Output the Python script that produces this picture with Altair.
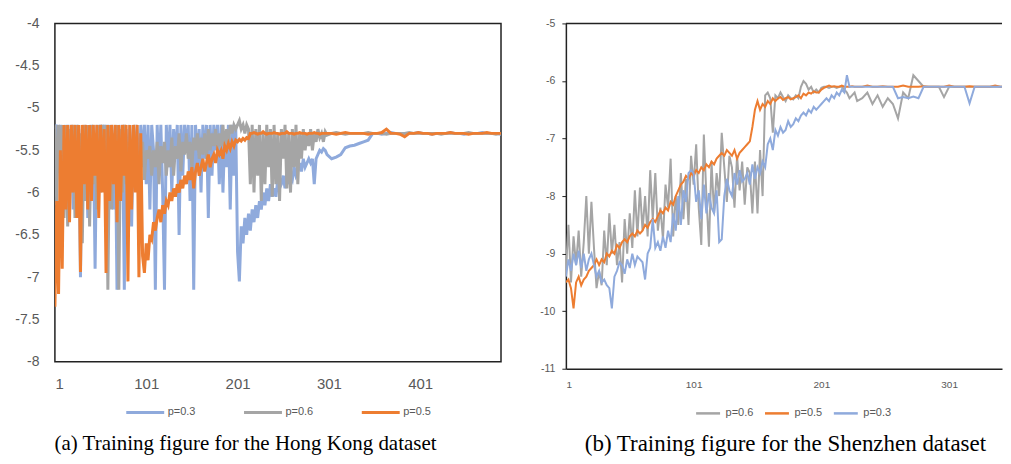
import altair as alt
import pandas as pd

# ---------------- data: (a) Hong Kong ----------------
hk_iters = list(range(1, 301, 2)) + list(range(304, 495, 5))
hk_names = ["p=0.3", "p=0.6", "p=0.5"]
hk_colors = ["#8FAADC", "#A5A5A5", "#ED7D31"]

hk_p03 = [
    -5.25, -5.2, -5.6, -5.2, -6.1, -5.2, -5.5, -5.2, -5.9, -5.2,
    -6.2, -5.2, -5.7, -5.2, -7.0, -5.25, -5.6, -5.2, -6.3, -5.2,
    -5.8, -5.2, -6.9, -5.2, -5.5, -5.2, -5.8, -5.2, -6.0, -5.2,
    -5.6, -5.2, -6.2, -5.2, -7.15, -5.2, -6.0, -5.2, -7.15, -5.25,
    -5.9, -5.2, -6.4, -5.2, -5.7, -5.2, -6.1, -5.2, -5.6, -5.2,
    -5.9, -5.2, -6.2, -5.2, -5.5, -7.15, -5.2, -5.8, -5.2, -6.0,
    -7.15, -5.2, -5.7, -5.2, -6.0, -5.25, -5.6, -5.2, -6.5, -5.2,
    -5.8, -5.2, -5.5, -5.2, -6.1, -5.2, -7.15, -5.2, -5.7, -5.25,
    -6.0, -5.2, -5.6, -5.2, -6.3, -5.2, -5.8, -5.2, -5.5, -5.2,
    -5.9, -5.2, -6.0, -5.3, -5.7, -5.2, -6.2, -5.2, -5.8, -5.2,
    -6.7, -7.05, -6.4, -6.6, -6.3, -6.5, -6.25, -6.45, -6.2, -6.35,
    -6.15, -6.3, -6.1, -6.2, -6.0, -6.15, -5.95, -6.1, -5.9, -6.05,
    -5.95, -6.05, -5.85, -5.95, -5.9, -5.8, -5.95, -5.75, -5.9, -5.8,
    -5.85, -5.7, -5.8, -5.75, -5.65, -5.75, -5.6, -5.7, -5.65, -5.6,
    -5.65, -5.6, -5.9, -5.6, -5.55, -5.5, -5.52, -5.48, -5.5, -5.55,
    -5.6, -5.58, -5.55, -5.47, -5.45, -5.44, -5.42, -5.4, -5.38, -5.3,
    -5.3, -5.31, -5.3, -5.29, -5.3, -5.3, -5.31, -5.3, -5.3, -5.29,
    -5.3, -5.3, -5.31, -5.3, -5.3, -5.3, -5.29, -5.3, -5.3, -5.31,
    -5.3, -5.3, -5.3, -5.29, -5.3, -5.3, -5.3, -5.31, -5.3,
]
hk_p06 = [
    -5.2, -6.15, -5.2, -5.6, -5.2, -6.3, -5.2, -6.4, -5.25, -6.0,
    -5.2, -6.3, -5.2, -5.9, -5.3, -6.6, -5.2, -6.1, -5.2, -6.4,
    -5.2, -5.9, -5.3, -6.2, -5.2, -6.0, -5.2, -5.8, -5.2, -7.15,
    -5.2, -6.2, -5.3, -5.9, -5.2, -7.15, -5.25, -6.0, -5.2, -5.9,
    -5.4, -5.7, -5.5, -5.9, -5.4, -5.8, -5.5, -5.7, -5.4, -5.85,
    -5.5, -5.6, -5.45, -5.8, -5.5, -5.7, -5.4, -5.9, -5.45, -5.65,
    -5.4, -5.8, -5.5, -5.7, -5.35, -5.8, -5.45, -5.6, -5.3, -5.75,
    -5.4, -5.55, -5.3, -5.6, -5.4, -5.7, -5.35, -5.5, -5.3, -5.6,
    -5.35, -5.55, -5.3, -5.6, -5.25, -5.5, -5.3, -5.45, -5.25, -5.5,
    -5.3, -5.45, -5.2, -5.5, -5.25, -5.4, -5.2, -5.3, -5.2, -5.25,
    -5.2, -5.15, -5.25, -5.2, -5.3, -5.2, -5.25, -5.9, -5.2, -6.0,
    -5.25, -5.8, -5.2, -6.1, -5.3, -5.9, -5.2, -5.7, -5.25, -6.05,
    -5.2, -5.9, -5.3, -6.1, -5.25, -5.6, -5.2, -5.95, -5.3, -6.0,
    -5.25, -5.7, -5.2, -5.9, -5.3, -5.6, -5.25, -5.5, -5.3, -5.45,
    -5.25, -5.5, -5.3, -5.4, -5.25, -5.35, -5.3, -5.4, -5.28, -5.32,
    -5.3, -5.29, -5.3, -5.31, -5.3, -5.3, -5.3, -5.3, -5.29, -5.3,
    -5.3, -5.3, -5.31, -5.3, -5.3, -5.3, -5.3, -5.29, -5.3, -5.3,
    -5.3, -5.3, -5.3, -5.3, -5.31, -5.3, -5.3, -5.3, -5.3, -5.3,
    -5.29, -5.3, -5.3, -5.3, -5.3, -5.3, -5.31, -5.3, -5.3,
]
hk_p05 = [
    -7.35, -6.1, -7.2, -5.5, -6.9, -5.2, -6.2, -5.2, -6.35, -5.2,
    -6.0, -5.2, -6.3, -5.2, -6.94, -5.2, -5.9, -5.2, -6.2, -5.2,
    -6.1, -5.2, -5.8, -5.2, -6.3, -5.2, -6.0, -5.25, -6.95, -5.2,
    -6.1, -5.2, -5.9, -5.2, -6.35, -5.2, -6.1, -5.2, -5.8, -5.2,
    -7.05, -5.2, -6.2, -5.2, -6.0, -5.2, -7.0, -5.3, -6.75, -6.95,
    -6.6, -6.8, -6.5, -6.55, -6.35, -6.45, -6.3, -6.2, -6.35, -6.15,
    -6.25, -6.1, -6.15, -6.0, -6.1, -5.95, -6.05, -5.9, -6.0, -5.85,
    -5.95, -5.8, -5.9, -5.75, -5.85, -5.7, -5.95, -5.75, -5.65, -5.8,
    -5.7, -5.6, -5.75, -5.65, -5.55, -5.7, -5.6, -5.55, -5.65, -5.5,
    -5.55, -5.5, -5.6, -5.45, -5.5, -5.42, -5.48, -5.4, -5.45, -5.38,
    -5.4, -5.37, -5.39, -5.36, -5.38, -5.35, -5.36, -5.3, -5.3, -5.29,
    -5.3, -5.31, -5.3, -5.3, -5.28, -5.3, -5.31, -5.3, -5.3, -5.3,
    -5.29, -5.3, -5.3, -5.31, -5.3, -5.3, -5.3, -5.28, -5.3, -5.3,
    -5.3, -5.31, -5.3, -5.3, -5.29, -5.3, -5.3, -5.3, -5.31, -5.3,
    -5.3, -5.3, -5.29, -5.3, -5.3, -5.31, -5.3, -5.3, -5.3, -5.3,
    -5.3, -5.31, -5.3, -5.29, -5.3, -5.3, -5.3, -5.3, -5.31, -5.3,
    -5.3, -5.29, -5.25, -5.3, -5.3, -5.31, -5.34, -5.3, -5.3, -5.29,
    -5.3, -5.3, -5.31, -5.3, -5.3, -5.3, -5.29, -5.3, -5.3, -5.3,
    -5.31, -5.3, -5.3, -5.3, -5.29, -5.3, -5.3, -5.3, -5.3,
]

# ---------------- data: (b) Shenzhen ----------------
sz_iters = list(range(1, 230, 2)) + list(range(233, 354, 4))
sz_names = ["p=0.6", "p=0.5", "p=0.3"]
sz_colors = ["#A5A5A5", "#ED7D31", "#8FAADC"]

sz_p06 = [
    -9.3, -8.5, -9.5, -8.7, -9.2, -8.6, -9.4, -8.8, -8.0, -9.0,
    -8.1, -8.9, -9.6, -9.3, -9.55, -8.6, -9.2, -8.3, -9.0, -8.5,
    -9.2, -8.8, -9.5, -8.4, -9.0, -8.3, -8.9, -7.9, -8.7, -7.85,
    -8.6, -8.0, -8.7, -7.55, -8.4, -7.6, -8.6, -8.2, -8.75, -7.8,
    -8.2, -7.35, -8.7, -8.0, -8.5, -7.6, -8.4, -7.7, -8.5, -7.3,
    -7.8, -7.1, -8.2, -8.85, -6.93, -8.0, -8.88, -7.4, -8.3, -7.6,
    -8.0, -6.9, -7.5, -8.1, -7.3, -7.5, -8.2, -7.3, -7.9, -7.4,
    -8.15, -7.5, -7.6, -8.3, -7.4, -8.3, -7.2, -8.0, -6.25, -6.2,
    -6.3, -6.9, -6.25, -6.3, -6.2, -6.28, -6.35, -6.25, -6.3, -6.32,
    -6.25, -6.3, -6.1, -6.0, -6.05, -6.15, -6.1, -6.2, -6.15, -6.2,
    -6.12, -6.1, -6.1, -6.12, -6.1, -6.1, -6.12, -6.1, -6.1, -6.15,
    -6.2, -6.3, -6.25, -6.2, -6.35,
    -6.3, -6.2, -6.4, -6.25, -6.45, -6.3, -6.4, -6.65, -6.2, -6.3,
    -5.9, -6.0, -6.1, -6.1, -6.1, -6.1, -6.28, -6.1, -6.1, -6.1,
    -6.1, -6.1, -6.1, -6.1, -6.1, -6.1, -6.1, -6.1, -6.1, -6.1,
    -6.1,
]
sz_p05 = [
    -9.5, -9.45, -9.6, -9.95, -9.5, -9.4, -9.55, -9.45, -9.4, -9.3,
    -9.25, -9.2, -9.1, -9.2, -9.1, -9.15, -9.0, -9.05, -8.95, -9.0,
    -8.85, -8.9, -8.8, -8.75, -8.8, -8.7, -8.65, -8.7, -8.6, -8.65,
    -8.6, -8.5, -8.55, -8.45, -8.4, -8.45, -8.35, -8.25, -8.3, -8.2,
    -8.25, -8.1, -8.15, -8.0, -7.9, -7.8, -7.75, -7.65, -7.7, -7.6,
    -7.65, -7.55, -7.6, -7.5, -7.55, -7.45, -7.5, -7.4, -7.45, -7.35,
    -7.3, -7.25, -7.3, -7.2, -7.25, -7.3, -7.2, -7.35, -7.25, -7.2,
    -7.15, -7.1, -7.05, -6.8, -6.5, -6.35, -6.5, -6.4, -6.45, -6.35,
    -6.4, -6.3, -6.35, -6.3, -6.28, -6.33, -6.3, -6.28, -6.32, -6.3,
    -6.28, -6.25, -6.3, -6.22, -6.25, -6.2, -6.22, -6.18, -6.2, -6.2,
    -6.15, -6.12, -6.1, -6.08, -6.1, -6.09, -6.1, -6.1, -6.08, -6.1,
    -6.1, -6.1, -6.09, -6.1, -6.1,
    -6.1, -6.08, -6.1, -6.1, -6.09, -6.1, -6.1, -6.1, -6.08, -6.1,
    -6.1, -6.1, -6.09, -6.1, -6.1, -6.1, -6.1, -6.08, -6.1, -6.1,
    -6.1, -6.09, -6.1, -6.1, -6.1, -6.1, -6.08, -6.1, -6.1, -6.1,
    -6.1,
]
sz_p03 = [
    -9.4, -9.1, -9.3, -9.0, -9.2, -8.95, -9.25, -9.0, -9.3, -9.1,
    -9.0, -9.2, -9.4, -9.3, -9.5, -9.45, -9.55, -9.6, -9.95, -9.4,
    -9.3, -9.15, -9.2, -9.35, -9.1, -9.25, -9.0, -9.2, -9.05, -9.1,
    -9.15, -9.45, -9.0, -8.9, -8.4, -8.9, -8.8, -8.95, -8.7, -8.9,
    -8.6, -8.8, -8.3, -8.6, -8.0, -8.5, -7.9, -8.1, -7.6, -7.55,
    -7.6, -8.1, -7.9, -8.4, -7.8, -8.3, -7.95, -8.2, -8.3, -7.9,
    -8.8, -8.75, -8.0, -7.7, -7.9, -8.0, -7.6, -7.8, -7.55, -7.75,
    -7.7, -7.6, -7.8, -7.45, -7.7, -7.5, -7.6, -7.4, -7.5, -7.1,
    -7.0, -7.2, -6.85, -6.95, -6.8, -6.9, -6.85, -6.7, -6.8, -6.75,
    -6.65, -6.7, -6.6, -6.55, -6.6, -6.5, -6.55, -6.45, -6.5, -6.45,
    -6.4, -6.35, -6.3, -6.35, -6.25, -6.3, -6.2, -6.25, -6.15, -6.2,
    -5.9, -6.1, -6.1, -6.1, -6.1,
    -6.1, -6.1, -6.1, -6.1, -6.1, -6.1, -6.1, -6.3, -6.28, -6.3,
    -6.27, -6.3, -6.1, -6.1, -6.1, -6.1, -6.1, -6.1, -6.1, -6.1,
    -6.1, -6.39, -6.1, -6.1, -6.1, -6.1, -6.1, -6.1, -6.1, -6.1,
    -6.1,
]

hk_ticks_x = [1, 101, 201, 301, 401]
hk_ticks_y = [-8, -7.5, -7, -6.5, -6, -5.5, -5, -4.5, -4]
sz_ticks_x = [1, 101, 201, 301]
sz_ticks_y = [-11, -10, -9, -8, -7, -6, -5]

cap_a = "(a)  Training figure for the Hong Kong dataset"
cap_b = "(b)  Training figure for the Shenzhen dataset"


def long_df(iters, names, series):
    rows = []
    for name, vals in zip(names, series):
        assert len(vals) == len(iters), (name, len(vals), len(iters))
        for i, v in zip(iters, vals):
            rows.append({"iter": i, "value": v, "series": name})
    return pd.DataFrame(rows)


hk_df = long_df(hk_iters, hk_names, [hk_p03, hk_p06, hk_p05])
sz_df = long_df(sz_iters, sz_names, [sz_p06, sz_p05, sz_p03])

LBL = "#595959"
FONT = "Liberation Sans"
LINE = "#222222"
CAP_Y = 421

# ---------------- panel (a) ----------------
HK_W, HK_H = 447, 339
hk_x = alt.X("iter:Q", scale=alt.Scale(domain=[1, 489.5], nice=False, zero=False),
             axis=alt.Axis(values=hk_ticks_x, labelExpr="'' + datum.value", ticks=False, tickSize=0,
                           domain=False, grid=False, labelFontSize=15, labelPadding=15,
                           labelColor=LBL, labelFont=FONT, title=None))
hk_y = alt.Y("value:Q", scale=alt.Scale(domain=[-8, -4], nice=False, zero=False),
             axis=alt.Axis(values=hk_ticks_y, labelExpr="'' + datum.value", ticks=False, tickSize=0,
                           domain=False, grid=False, labelFontSize=14, labelPadding=16,
                           labelColor=LBL, labelFont=FONT, minExtent=46, maxExtent=46, title=None))
hk_color = alt.Color("series:N", scale=alt.Scale(domain=hk_names, range=hk_colors),
                     legend=alt.Legend(orient="none", legendX=70, legendY=369, direction="horizontal",
                                       symbolType="stroke", symbolSize=1444, symbolStrokeWidth=3,
                                       labelFontSize=11, labelFont=FONT, labelColor=LBL, labelOffset=2,
                                       columnPadding=42, title=None))
hk_layers = [
    alt.Chart(hk_df).transform_filter(alt.datum.series == s)
    .mark_line(strokeWidth=3, clip=True)
    .encode(x=hk_x, y=hk_y, color=hk_color)
    for s in hk_names
]
hk_cap = alt.Chart(pd.DataFrame({"t": [cap_a]})).mark_text(
    font="Liberation Serif", fontSize=21, color="#000000", align="center", baseline="middle"
).encode(text="t:N", x=alt.value(191), y=alt.value(CAP_Y))

left = alt.layer(*hk_layers, hk_cap).properties(
    width=HK_W, height=HK_H, view=alt.ViewBackground(stroke=LINE, strokeWidth=1.5)
)

# ---------------- panel (b) ----------------
SZ_W, SZ_H = 437, 346
sz_x = alt.X("iter:Q", scale=alt.Scale(domain=[1, 342.4], nice=False, zero=False),
             axis=alt.Axis(values=sz_ticks_x, labelExpr="'' + datum.value", ticks=False, tickSize=0,
                           domain=True, domainColor=LINE, domainWidth=1.5, grid=False,
                           labelFontSize=10, labelPadding=11, labelColor=LBL, labelFont=FONT, title=None))
sz_y = alt.Y("value:Q", scale=alt.Scale(domain=[-11, -5], nice=False, zero=False),
             axis=alt.Axis(values=sz_ticks_y, labelExpr="'' + datum.value", ticks=True, tickSize=4,
                           tickColor=LINE, tickWidth=1, domain=True, domainColor=LINE, domainWidth=1.5,
                           grid=False, labelFontSize=10.5, labelPadding=7, labelColor=LBL, labelFont=FONT,
                           minExtent=30, maxExtent=30, title=None))
sz_color = alt.Color("series:N", scale=alt.Scale(domain=sz_names, range=sz_colors),
                     legend=alt.Legend(orient="none", legendX=129, legendY=377, direction="horizontal",
                                       symbolType="stroke", symbolSize=576, symbolStrokeWidth=2.5,
                                       labelFontSize=11, labelFont=FONT, labelColor=LBL, labelOffset=4,
                                       columnPadding=6, title=None))
sz_layers = [
    alt.Chart(sz_df).transform_filter(alt.datum.series == s)
    .mark_line(strokeWidth=2, clip=True)
    .encode(x=sz_x, y=sz_y, color=sz_color)
    for s in sz_names
]
sz_top = alt.Chart(pd.DataFrame({"a": [0]})).mark_rule(color=LINE, strokeWidth=1.5).encode(
    x=alt.value(0), x2=alt.value(SZ_W), y=alt.value(0)
)
sz_cap = alt.Chart(pd.DataFrame({"t": [cap_b]})).mark_text(
    font="Liberation Serif", fontSize=23, color="#000000", align="center", baseline="middle"
).encode(text="t:N", x=alt.value(220), y=alt.value(CAP_Y))

right = alt.layer(*sz_layers, sz_top, sz_cap).properties(
    width=SZ_W, height=SZ_H, view=alt.ViewBackground(stroke="transparent", strokeWidth=0)
)

chart = (
    alt.hconcat(left, right, spacing=34)
    .resolve_scale(x="independent", y="independent", color="independent")
    .resolve_legend(color="independent")
    .properties(padding={"left": 0, "top": 7, "right": 0, "bottom": 0}, background="white")
)

chart.save("out.html", embed_options={"renderer": "svg", "actions": False})
